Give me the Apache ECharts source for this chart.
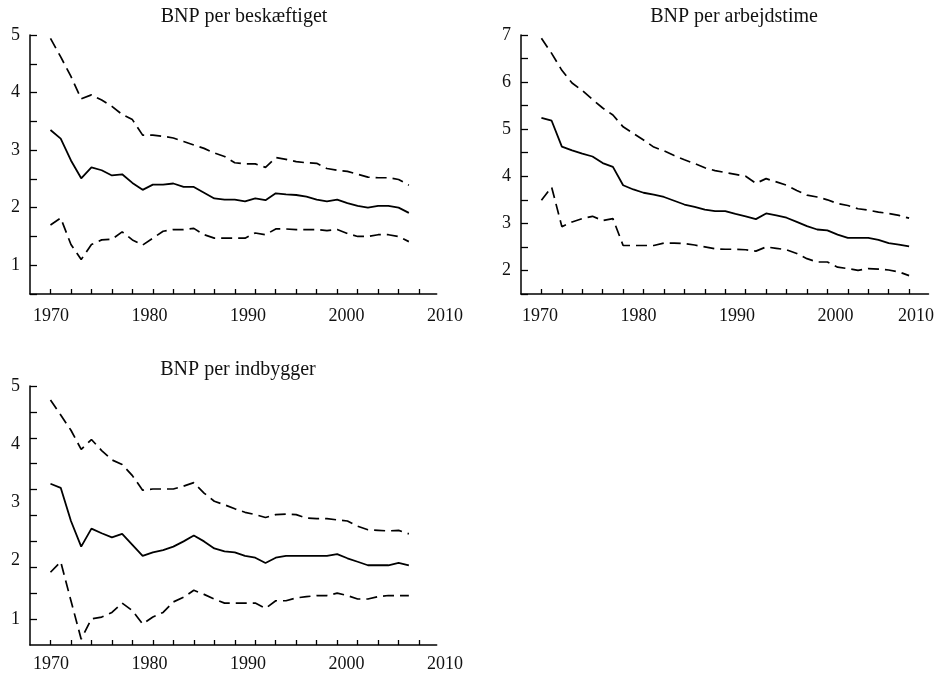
<!DOCTYPE html>
<html><head><meta charset="utf-8">
<script src="https://cdn.jsdelivr.net/npm/echarts@6/dist/echarts.min.js"></script>
<style>html,body{margin:0;padding:0;background:#fff}#c{width:940px;height:673px}</style>
</head><body><div id="c"></div>
<script>
// ---- data ----
const yearsA = [1970,1971,1972,1973,1974,1975,1976,1977,1978,1979,1980,1981,1982,1983,1984,1985,1986,1987,1988,1989,1990,1991,1992,1993,1994,1995,1996,1997,1998,1999,2000,2001,2002,2003,2004,2005];
const yearsB = [1970,1971,1972,1973,1974,1975,1976,1977,1978,1979,1980,1981,1982,1983,1984,1985,1986,1987,1988,1989,1990,1991,1992,1993,1994,1995,1996,1997,1998,1999,2000,2001,2002,2003,2004,2005,2006];

const titles = ['BNP per beskæftiget', 'BNP per arbejdstime', 'BNP per indbygger'];
const xTickLabels = [1970, 1980, 1990, 2000, 2010];
const yTickLabels1 = [1, 2, 3, 4, 5];
const yTickLabels2 = [2, 3, 4, 5, 6, 7];
const yTickLabels3 = [1, 2, 3, 4, 5];

// BNP per beskæftiget
const p1Mid = [3.35,3.20,2.82,2.51,2.70,2.65,2.56,2.58,2.43,2.31,2.40,2.40,2.42,2.36,2.36,2.26,2.16,2.14,2.14,2.11,2.16,2.13,2.25,2.23,2.22,2.19,2.14,2.11,2.14,2.08,2.03,2.00,2.03,2.03,2.00,1.91];
const p1Up  = [4.94,4.62,4.28,3.89,3.96,3.87,3.76,3.62,3.53,3.26,3.26,3.24,3.21,3.15,3.09,3.03,2.95,2.89,2.78,2.76,2.76,2.70,2.87,2.84,2.80,2.78,2.77,2.68,2.65,2.63,2.58,2.53,2.52,2.52,2.49,2.39];
const p1Low = [1.70,1.82,1.36,1.10,1.36,1.44,1.45,1.58,1.44,1.35,1.47,1.59,1.62,1.62,1.64,1.53,1.47,1.47,1.47,1.47,1.56,1.53,1.63,1.63,1.62,1.62,1.62,1.60,1.62,1.55,1.50,1.50,1.53,1.53,1.50,1.41];

// BNP per arbejdstime
const p2Mid = [5.24,5.18,4.63,4.55,4.48,4.42,4.28,4.20,3.81,3.72,3.65,3.61,3.56,3.48,3.40,3.35,3.29,3.26,3.26,3.20,3.15,3.09,3.21,3.17,3.12,3.03,2.94,2.87,2.85,2.76,2.69,2.69,2.69,2.65,2.58,2.55,2.51];
const p2Up  = [6.93,6.61,6.25,5.98,5.82,5.63,5.45,5.30,5.05,4.91,4.77,4.62,4.54,4.44,4.35,4.27,4.18,4.12,4.08,4.04,4.00,3.85,3.95,3.88,3.81,3.70,3.60,3.56,3.50,3.42,3.38,3.31,3.28,3.24,3.21,3.17,3.11];
const p2Low = [3.49,3.77,2.93,3.03,3.10,3.15,3.06,3.10,2.53,2.53,2.53,2.53,2.58,2.58,2.57,2.54,2.50,2.46,2.45,2.45,2.44,2.41,2.50,2.47,2.44,2.36,2.25,2.18,2.18,2.07,2.04,2.00,2.04,2.03,2.01,1.97,1.89];

// BNP per indbygger
const p3Mid = [3.32,3.25,2.68,2.24,2.55,2.47,2.40,2.46,2.27,2.08,2.14,2.18,2.24,2.33,2.43,2.33,2.21,2.16,2.14,2.08,2.05,1.96,2.05,2.08,2.08,2.08,2.08,2.08,2.11,2.04,1.98,1.92,1.92,1.92,1.96,1.92];
const p3Up  = [4.76,4.50,4.24,3.91,4.08,3.89,3.73,3.65,3.46,3.21,3.23,3.23,3.23,3.28,3.34,3.16,3.02,2.96,2.89,2.83,2.79,2.74,2.79,2.80,2.79,2.73,2.72,2.72,2.70,2.68,2.59,2.53,2.52,2.51,2.52,2.46];
const p3Low = [1.80,1.98,1.31,0.65,1.00,1.03,1.11,1.27,1.14,0.91,1.03,1.11,1.29,1.37,1.49,1.42,1.34,1.27,1.27,1.27,1.27,1.18,1.31,1.31,1.36,1.38,1.40,1.40,1.44,1.40,1.34,1.34,1.38,1.40,1.40,1.40];

// ---- chart ----
const FONT = 'Liberation Serif';
const INK = '#000';
const pairs = (xs, ys) => xs.map((x, i) => [x, ys[i]]);
const tickYears = yearsB.filter((_, i) => i % 2 === 0);

const lineAxis = { show: true, lineStyle: { color: INK, width: 1.5 } };
const tickStyle = { color: INK, width: 1.3 };
const lblStyle = { color: '#111', fontFamily: FONT, fontSize: 18, formatter: v => String(v) };

function dataX(gi, min, max) {
  return { type: 'value', gridIndex: gi, min, max, splitLine: { show: false },
    axisLine: lineAxis,
    axisTick: { show: true, inside: true, length: 5, lineStyle: tickStyle, customValues: tickYears },
    axisLabel: { show: false } };
}
function labelX(gi, min, max, alignRight) {
  return { type: 'value', gridIndex: gi, min, max, splitLine: { show: false },
    axisLine: { show: false }, axisTick: { show: false },
    axisLabel: Object.assign({ show: true, margin: 13, customValues: xTickLabels,
      alignMaxLabel: alignRight ? 'right' : null }, lblStyle) };
}
function dataY(gi, min, max, interval, labels, tickVals) {
  const tick = { show: true, inside: true, length: 7, lineStyle: tickStyle };
  if (tickVals) tick.customValues = tickVals;
  const ax = { type: 'value', gridIndex: gi, min, max, splitLine: { show: false },
    axisLine: lineAxis, axisTick: tick,
    axisLabel: Object.assign({ show: true, margin: 10, customValues: labels }, lblStyle) };
  if (interval) ax.interval = interval;
  return ax;
}
function hiddenY(gi) { return { type: 'value', gridIndex: gi, min: 0, max: 1, show: false }; }

const p3Min = 0.55, p3Max = 5;
const p3Ticks = [];
for (let k = 1; k <= 10; k++) p3Ticks.push(p3Min + k * (p3Max - p3Min) / 10);

function series(xi, yi, xs, ys, dashed) {
  return { type: 'line', xAxisIndex: xi, yAxisIndex: yi, data: pairs(xs, ys),
    symbol: 'none', silent: true, clip: false,
    lineStyle: { color: INK, width: dashed ? 1.7 : 1.8, type: dashed ? [11, 6] : 'solid' } };
}

const option = {
  animation: false,
  backgroundColor: '#fff',
  grid: [
    { left: 30, top: 35, width: 406.7, height: 259 },
    { left: 521, top: 35, width: 407.5, height: 259 },
    { left: 30, top: 386, width: 406.7, height: 259 },
    { left: 30, top: 35, width: 440, height: 259 },
    { left: 521, top: 35, width: 419, height: 259 },
    { left: 30, top: 386, width: 440, height: 259 }
  ],
  xAxis: [
    dataX(0, 1968, 2007.72),
    dataX(1, 1968, 2007.9),
    dataX(2, 1968, 2007.72),
    labelX(3, 1967.87, 2012.54, false),
    labelX(4, 1968.07, 2010.61, true),
    labelX(5, 1967.87, 2012.54, false)
  ],
  yAxis: [
    dataY(0, 0.5, 5, 0.5, yTickLabels1, null),
    dataY(1, 1.5, 7, 0.5, yTickLabels2, null),
    dataY(2, p3Min, p3Max, null, yTickLabels3, p3Ticks),
    hiddenY(3), hiddenY(4), hiddenY(5)
  ],
  graphic: [
    { type: 'text', x: 244, y: 17, style: { text: titles[0], font: '20px "Liberation Serif"', fill: '#111', align: 'center', verticalAlign: 'middle' } },
    { type: 'text', x: 734, y: 17, style: { text: titles[1], font: '20px "Liberation Serif"', fill: '#111', align: 'center', verticalAlign: 'middle' } },
    { type: 'text', x: 238, y: 370, style: { text: titles[2], font: '20px "Liberation Serif"', fill: '#111', align: 'center', verticalAlign: 'middle' } }
  ],
  series: [
    series(0, 0, yearsA, p1Mid, false), series(0, 0, yearsA, p1Up, true), series(0, 0, yearsA, p1Low, true),
    series(1, 1, yearsB, p2Mid, false), series(1, 1, yearsB, p2Up, true), series(1, 1, yearsB, p2Low, true),
    series(2, 2, yearsA, p3Mid, false), series(2, 2, yearsA, p3Up, true), series(2, 2, yearsA, p3Low, true)
  ]
};
const chart = echarts.init(document.getElementById('c'), null, { renderer: 'canvas' });
chart.setOption(option);
</script>
</body></html>
